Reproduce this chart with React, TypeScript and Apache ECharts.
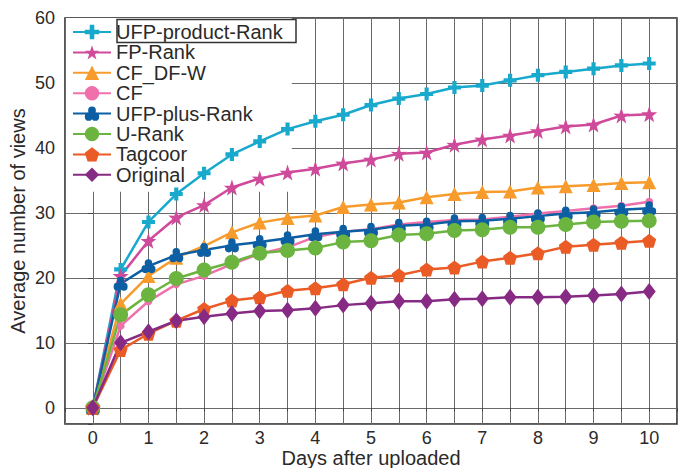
import React, { useEffect, useRef } from "react";
import * as echarts from "echarts";

const days = [0, 0.5, 1, 1.5, 2, 2.5, 3, 3.5, 4, 4.5, 5, 5.5, 6, 6.5, 7, 7.5, 8, 8.5, 9, 9.5, 10];

const ufpProductRank = [0, 21.3, 28.6, 32.9, 36.1, 39.0, 41.0, 42.9, 44.1, 45.1, 46.6, 47.6, 48.3, 49.3, 49.6, 50.4, 51.2, 51.7, 52.2, 52.7, 53.0];
const fpRank = [0, 20.3, 25.7, 29.3, 31.2, 33.9, 35.3, 36.2, 36.8, 37.6, 38.2, 39.1, 39.3, 40.5, 41.3, 41.9, 42.6, 43.3, 43.6, 45.0, 45.2];
const cfDfW = [0, 16.0, 20.3, 23.1, 24.9, 27.0, 28.5, 29.2, 29.6, 30.9, 31.3, 31.6, 32.4, 32.9, 33.2, 33.3, 33.9, 34.1, 34.3, 34.6, 34.7];
const cf = [0, 12.6, 16.4, 19.0, 20.3, 22.1, 23.7, 24.7, 26.3, 27.1, 27.5, 28.2, 28.6, 28.9, 29.0, 29.4, 29.9, 30.3, 30.7, 31.1, 31.7];
const ufpPlusRank = [0, 19.1, 21.8, 23.5, 24.3, 25.0, 25.5, 26.1, 26.7, 27.1, 27.4, 28.0, 28.2, 28.7, 28.8, 29.1, 29.5, 29.9, 30.1, 30.5, 30.7];
const uRank = [0, 14.3, 17.4, 19.9, 21.2, 22.4, 23.8, 24.2, 24.6, 25.5, 25.7, 26.6, 26.8, 27.3, 27.4, 27.8, 27.8, 28.2, 28.6, 28.7, 28.8];
const tagcoor = [0, 8.9, 11.4, 13.4, 15.2, 16.5, 17.0, 18.0, 18.4, 19.0, 20.0, 20.4, 21.3, 21.6, 22.5, 23.1, 23.8, 24.8, 25.1, 25.4, 25.7];
const original = [0, 10.0, 11.7, 13.4, 14.0, 14.5, 14.9, 15.0, 15.3, 15.8, 16.1, 16.4, 16.4, 16.7, 16.8, 17.0, 17.0, 17.1, 17.3, 17.5, 17.9];

const seriesNames = ["UFP-product-Rank", "FP-Rank", "CF_DF-W", "CF", "UFP-plus-Rank", "U-Rank", "Tagcoor", "Original"];

const PLUS = "path://M34,0 H66 V34 H100 V66 H66 V100 H34 V66 H0 V34 H34 Z";
const STAR = "path://M50,0 L61.8,35.1 L97.6,34.5 L69,56.7 L79.4,90.5 L50,70 L20.6,90.5 L31,56.7 L2.4,34.5 L38.2,35.1 Z";
const PENTA = "path://M50,0 L97.6,34.5 L79.4,90.5 L20.6,90.5 L2.4,34.5 Z";
const CLUB =
  "path://M24,30 A26,26 0 1,1 76,30 A26,26 0 1,1 24,30 Z M2,68 A26,26 0 1,1 54,68 A26,26 0 1,1 2,68 Z M46,68 A26,26 0 1,1 98,68 A26,26 0 1,1 46,68 Z M35,40 L65,40 L65,70 L35,70 Z";

const FONT = "Liberation Sans, Arial, sans-serif";
const TEXT = "#2a2a2a";

export default function App() {
  const ref = useRef<HTMLDivElement>(null);
  useEffect(() => {
    if (!ref.current) return;
    const chart = echarts.init(ref.current, null, { renderer: "svg" });
    const toPairs = (vals: number[]) => days.map((d, i) => [d, vals[i]]);
    const defs: [string, number[], string, string, any][] = [
      [seriesNames[0], ufpProductRank, "#18a9cc", PLUS, 13],
      [seriesNames[1], fpRank, "#d04a9b", STAR, 16],
      [seriesNames[2], cfDfW, "#f79c2c", "triangle", 14],
      [seriesNames[3], cf, "#ef70aa", "circle", 8],
      [seriesNames[4], ufpPlusRank, "#0d5fa3", CLUB, 14],
      [seriesNames[5], uRank, "#6bb43f", "circle", 15],
      [seriesNames[6], tagcoor, "#ea5b25", PENTA, 14],
      [seriesNames[7], original, "#862a84", "diamond", [13, 17]],
    ];
    chart.setOption({
      animation: false,
      backgroundColor: "#ffffff",
      textStyle: { fontFamily: FONT },
      grid: {
        left: 65,
        right: 9,
        top: 18,
        bottom: 44,
        outerBoundsMode: "none",
        containLabel: false,
        show: true,
        borderColor: "#222",
        borderWidth: 1.5,
        backgroundColor: "#fff",
      },
      legend: {
        orient: "vertical",
        left: 66,
        top: 18,
        padding: [4, 9, 7, 6],
        backgroundColor: "#fff",
        z: 1,
        itemWidth: 38,
        itemHeight: 18,
        itemGap: 0.4,
        textStyle: { fontSize: 20, color: TEXT, fontFamily: FONT, fontWeight: "normal", lineHeight: 20 },
        data: seriesNames,
      },
      xAxis: {
        type: "value",
        min: -0.5,
        max: 10.5,
        interval: 0.5,
        name: "Days after uploaded",
        nameLocation: "middle",
        nameGap: 24,
        nameMoveOverlap: false,
        nameTextStyle: { fontSize: 20, color: TEXT, fontFamily: FONT, lineHeight: 20 },
        axisLine: { show: false },
        axisTick: { show: true, length: 4, lineStyle: { color: "#444" } },
        axisLabel: {
          fontSize: 18,
          lineHeight: 18,
          color: TEXT,
          margin: 5,
          fontFamily: FONT,
          formatter: (v: number) => (Number.isInteger(v) && v >= 0 && v <= 10 ? String(v) : ""),
        },
        splitLine: { show: true, lineStyle: { color: "#6a6a6a", width: 1 } },
      },
      yAxis: {
        type: "value",
        min: -2.5,
        max: 60,
        splitNumber: 6,
        name: "Average number of views",
        nameLocation: "middle",
        nameGap: 37,
        nameMoveOverlap: false,
        nameTextStyle: { fontSize: 20, color: TEXT, fontFamily: FONT },
        axisLine: { show: false },
        axisTick: { show: true, length: 5, lineStyle: { color: "#444" } },
        axisLabel: {
          fontSize: 18,
          color: TEXT,
          margin: 10,
          fontFamily: FONT,
          formatter: (v: number) => (v >= 0 && v % 10 === 0 ? String(v) : ""),
        },
        splitLine: { show: true, lineStyle: { color: "#6a6a6a", width: 1 } },
      },
      graphic: [
        {
          type: "rect",
          z: 100,
          shape: { x: 117, y: 19.5, width: 179, height: 23 },
          style: { fill: "none", stroke: "#333", lineWidth: 1.5 },
        },
      ],
      series: defs.map(([name, vals, color, symbol, size]) => ({
        name,
        type: "line",
        data: toPairs(vals),
        symbol,
        symbolSize: size,
        showAllSymbol: true,
        z: 2,
        lineStyle: { color, width: 2.5 },
        itemStyle: { color, borderWidth: 0 },
      })),
    });
    return () => chart.dispose();
  }, []);
  return (
    <div
      ref={ref}
      style={{ position: "fixed", left: 0, top: 0, width: 686, height: 468 }}
    />
  );
}
